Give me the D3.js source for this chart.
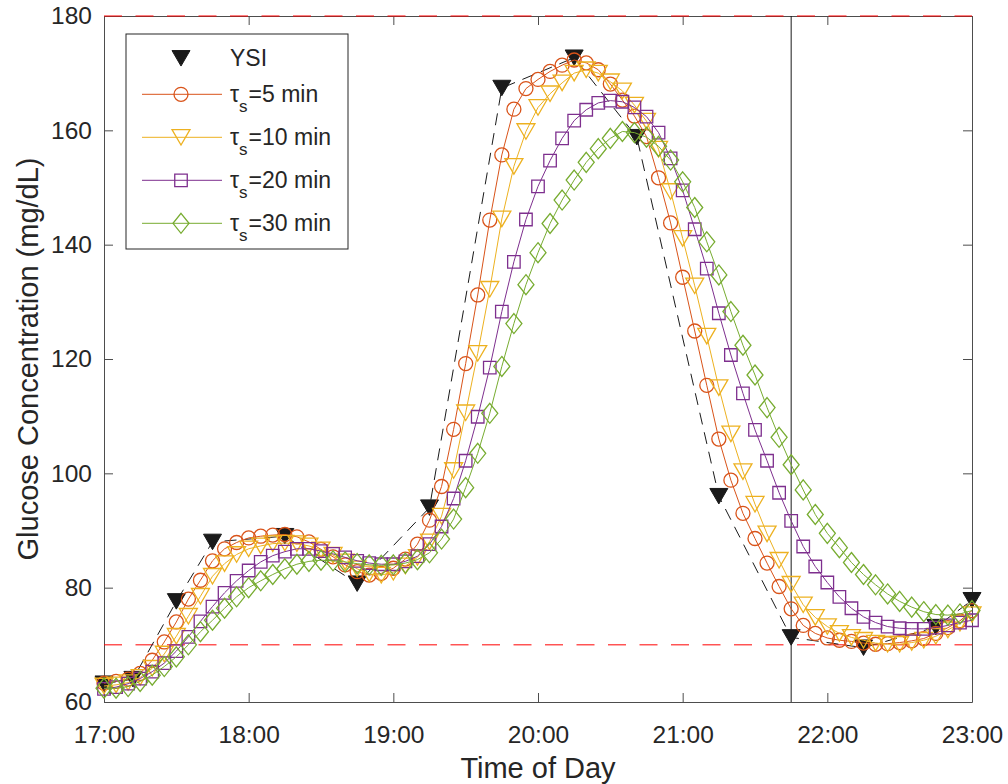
<!DOCTYPE html>
<html>
<head>
<meta charset="utf-8">
<script src="https://cdn.jsdelivr.net/npm/d3@7/dist/d3.min.js"></script>
<style>
html,body{margin:0;padding:0;background:#fff;}
svg{display:block;font-family:"Liberation Sans",Arial,Helvetica,sans-serif;}
</style>
</head>
<body>
<svg id="chart" width="1008" height="784"></svg>
<script>
// ---- data ----
const xTickValues = [0, 60, 120, 180, 240, 300, 360];           // minutes after 17:00
const xTickLabels = ["17:00","18:00","19:00","20:00","21:00","22:00","23:00"];
const yTickValues = [60, 80, 100, 120, 140, 160, 180];

const sampleMinutes = [0,5,10,15,20,25,30,35,40,45,50,55,60,65,70,75,80,85,90,95,100,105,110,115,120,
  125,130,135,140,145,150,155,160,165,170,175,180,185,190,195,200,205,210,215,220,225,230,235,240,
  245,250,255,260,265,270,275,280,285,290,295,300,305,310,315,320,325,330,335,340,345,350,355,360];

const ysiMinutes = [0, 12, 30, 45, 75, 105, 135, 165, 195, 221, 255, 285, 315, 345, 360];
const ysiValues  = [63.2, 64.0, 77.6, 88.0, 89.0, 80.7, 94.0, 167.4, 172.7, 158.8, 96.0, 71.3, 69.5, 73.1, 77.8];

const tau5 = [63.3,63.6,64.0,65.0,67.3,70.5,74.0,78.0,81.3,84.7,86.8,87.9,88.7,89.0,89.2,89.3,88.9,88.0,86.7,85.4,
  84.0,82.8,82.2,82.5,83.4,85.0,87.6,91.8,97.7,107.7,119.2,131.2,144.3,155.7,163.7,167.3,168.9,170.3,171.4,172.3,
  171.8,170.6,168.1,165.3,162.5,158.9,151.7,143.8,134.3,124.9,115.4,106.0,98.8,93.0,88.6,84.3,80.2,76.3,73.4,72.0,
  71.2,70.8,70.6,70.3,70.1,70.2,70.4,70.7,71.1,72.0,73.0,74.2,76.0];
const tau10 = [62.8,63.0,63.4,64.3,65.9,68.4,71.5,75.0,78.5,82.0,84.2,85.8,86.8,87.3,87.7,87.8,87.7,87.3,86.6,85.7,
  84.5,83.3,82.4,82.2,82.7,83.8,85.3,88.0,92.5,100.5,110.6,121.0,132.2,144.5,153.7,159.8,164.0,166.4,168.3,170.0,
  170.6,170.0,168.5,166.9,164.4,161.6,156.7,149.3,141.1,132.8,124.0,115.0,106.9,100.3,94.6,89.4,84.8,80.6,77.0,74.8,
  73.2,72.0,71.3,70.8,70.3,70.1,70.1,70.4,70.8,71.5,72.6,73.8,75.3];
const tau20 = [62.3,62.6,63.2,64.1,65.3,66.8,68.9,71.4,74.1,76.7,79.1,81.2,83.0,84.5,85.6,86.3,86.8,86.8,86.4,85.9,
  85.3,84.7,84.3,84.1,84.1,84.6,85.5,87.6,90.7,95.6,102.2,109.9,118.5,128.3,137.0,144.4,150.2,154.7,158.6,161.7,
  163.6,164.8,165.2,165.0,164.0,162.4,159.6,155.1,149.5,142.7,135.8,128.0,120.7,114.0,107.6,102.2,96.6,91.7,87.2,83.7,
  80.9,78.4,76.4,74.9,73.9,73.2,72.9,72.8,72.8,73.0,73.4,73.9,74.3];
const tau30 = [62.4,62.4,62.7,63.6,64.7,66.2,67.9,70.0,72.3,74.3,76.4,78.4,80.0,81.2,82.3,83.3,84.1,84.6,84.8,84.7,
  84.5,84.2,84.0,83.9,84.0,84.3,84.9,86.1,88.5,92.0,97.5,103.5,110.5,118.7,126.2,133.0,138.6,143.7,147.8,151.3,
  154.4,156.8,158.6,159.8,159.6,158.8,157.2,154.8,151.0,146.5,140.5,134.7,128.3,122.4,117.2,111.5,106.3,101.5,97.1,92.8,
  89.5,87.0,84.4,82.3,80.5,78.9,77.6,76.6,75.8,75.3,75.2,75.4,76.0];

const seriesNames = ["5", "10", "20", "30"];
const seriesData = [tau5, tau10, tau20, tau30];
const seriesColors = ["#D95319", "#EDB120", "#7E2F8E", "#77AC30"];
const seriesMarkers = ["circle", "triangleDown", "square", "diamond"];
const hypoLevel = 70, hyperLevel = 180, markerTime = 285;

// ---- layout ----
const L = 104, R = 972, T = 16, B = 702;
const svg = d3.select("#chart");
const x = d3.scaleLinear().domain([0, 360]).range([L, R]);
const y = d3.scaleLinear().domain([60, 180]).range([B, T]);
const textColor = "#262626", axisColor = "#4d4d4d";

function markerPath(type) {
  switch (type) {
    case "circle": { const r = 7; return `M${-r},0A${r},${r} 0 1,0 ${r},0A${r},${r} 0 1,0 ${-r},0Z`; }
    case "triangleDown": { const w = 18, h = 15.5; return `M${-w/2},${-h/2}L${w/2},${-h/2}L0,${h/2}Z`; }
    case "square": { const s = 12.5; return `M${-s/2},${-s/2}h${s}v${s}h${-s}Z`; }
    case "diamond": { const w = 16, h = 20; return `M0,${-h/2}L${w/2},0L0,${h/2}L${-w/2},0Z`; }
  }
}

// ---- axes ----
const fontTick = 24.5;
const gx = svg.append("g").attr("transform", `translate(0,${B})`)
  .call(d3.axisBottom(x).tickValues(xTickValues).tickFormat((d, i) => xTickLabels[i])
    .tickSizeInner(-9).tickSizeOuter(0).tickPadding(24));
const gy = svg.append("g").attr("transform", `translate(${L},0)`)
  .call(d3.axisLeft(y).tickValues(yTickValues).tickFormat(d3.format("d"))
    .tickSizeInner(-9).tickSizeOuter(0).tickPadding(12));
const gxt = svg.append("g").attr("transform", `translate(0,${T})`)
  .call(d3.axisTop(x).tickValues(xTickValues).tickFormat("").tickSizeInner(-9).tickSizeOuter(0));
const gyr = svg.append("g").attr("transform", `translate(${R},0)`)
  .call(d3.axisRight(y).tickValues(yTickValues).tickFormat("").tickSizeInner(-9).tickSizeOuter(0));
[gx, gy, gxt, gyr].forEach(g => {
  g.selectAll("path.domain").attr("stroke", axisColor).attr("stroke-width", 1);
  g.selectAll(".tick line").attr("stroke", axisColor).attr("stroke-width", 1);
  g.selectAll(".tick text").attr("fill", textColor).style("font-size", fontTick + "px")
    .style("font-family", '"Liberation Sans",Arial,sans-serif');
});

// axis labels
svg.append("text").attr("x", (L + R) / 2).attr("y", 768).attr("dy", "0.35em")
  .attr("text-anchor", "middle").attr("fill", textColor).style("font-size", "29px").text("Time of Day");
svg.append("text").attr("transform", `translate(28,${(T + B) / 2}) rotate(-90)`).attr("dy", "0.35em")
  .attr("text-anchor", "middle").attr("fill", textColor).style("font-size", "29px")
  .text("Glucose Concentration (mg/dL)");

// ---- reference lines ----
svg.append("line").attr("x1", x(0)).attr("x2", x(360)).attr("y1", y(hypoLevel)).attr("y2", y(hypoLevel))
  .attr("stroke", "#ff0000").attr("stroke-width", 1).attr("stroke-dasharray", "18,13.5");
svg.append("line").attr("x1", x(0)).attr("x2", x(360)).attr("y1", y(hyperLevel)).attr("y2", y(hyperLevel))
  .attr("stroke", "#ff0000").attr("stroke-width", 1).attr("stroke-dasharray", "18,13.5");
svg.append("line").attr("x1", x(markerTime)).attr("x2", x(markerTime)).attr("y1", y(180)).attr("y2", y(60))
  .attr("stroke", "#1a1a1a").attr("stroke-width", 1);

// ---- YSI ----
const ysi = ysiMinutes.map((m, i) => ({ m, v: ysiValues[i] }));
svg.append("path").datum(ysi)
  .attr("d", d3.line().x(d => x(d.m)).y(d => y(d.v)))
  .attr("fill", "none").attr("stroke", "#1a1a1a").attr("stroke-width", 1).attr("stroke-dasharray", "12,8");
svg.append("g").selectAll("path").data(ysi).join("path")
  .attr("transform", d => `translate(${x(d.m)},${y(d.v)})`)
  .attr("d", markerPath("triangleDown")).attr("fill", "#1a1a1a").attr("stroke", "#1a1a1a").attr("stroke-width", 1);

// ---- series ----
seriesData.forEach((vals, si) => {
  const pts = sampleMinutes.map((m, i) => ({ m, v: vals[i] }));
  const g = svg.append("g");
  g.append("path").datum(pts)
    .attr("d", d3.line().x(d => x(d.m)).y(d => y(d.v)))
    .attr("fill", "none").attr("stroke", seriesColors[si]).attr("stroke-width", 1);
  g.selectAll("path.mk").data(pts).join("path").attr("class", "mk")
    .attr("transform", d => `translate(${x(d.m)},${y(d.v)})`)
    .attr("d", markerPath(seriesMarkers[si]))
    .attr("fill", "none").attr("stroke", seriesColors[si]).attr("stroke-width", 1.3);
});

// ---- legend ----
const lg = svg.append("g");
lg.append("rect").attr("x", 126).attr("y", 34).attr("width", 222).attr("height", 215)
  .attr("fill", "#fff").attr("stroke", "#262626").attr("stroke-width", 1);
const rowY = [58.3, 94.3, 137.3, 180.3, 223.3];
const lx1 = 142, lx2 = 222, lmx = 181, ltx = 230, fLeg = 23;
lg.append("path").attr("transform", `translate(${lmx},${rowY[0]})`).attr("d", markerPath("triangleDown"))
  .attr("fill", "#1a1a1a").attr("stroke", "#1a1a1a");
lg.append("text").attr("x", ltx).attr("y", rowY[0]).attr("dy", "0.35em").attr("fill", textColor)
  .style("font-size", fLeg + "px").text("YSI");
seriesNames.forEach((nm, i) => {
  const yy = rowY[i + 1];
  lg.append("line").attr("x1", lx1).attr("x2", lx2).attr("y1", yy).attr("y2", yy)
    .attr("stroke", seriesColors[i]).attr("stroke-width", 1);
  lg.append("path").attr("transform", `translate(${lmx},${yy})`).attr("d", markerPath(seriesMarkers[i]))
    .attr("fill", "none").attr("stroke", seriesColors[i]).attr("stroke-width", 1.3);
  const t = lg.append("text").attr("x", ltx).attr("y", yy + 8).attr("fill", textColor).style("font-size", fLeg + "px");
  t.append("tspan").text("τ");
  t.append("tspan").attr("dy", 9.5).style("font-size", "17px").text("s");
  t.append("tspan").attr("dy", -9.5).attr("dx", 1).text("=" + nm + " min");
});
</script>
</body>
</html>
